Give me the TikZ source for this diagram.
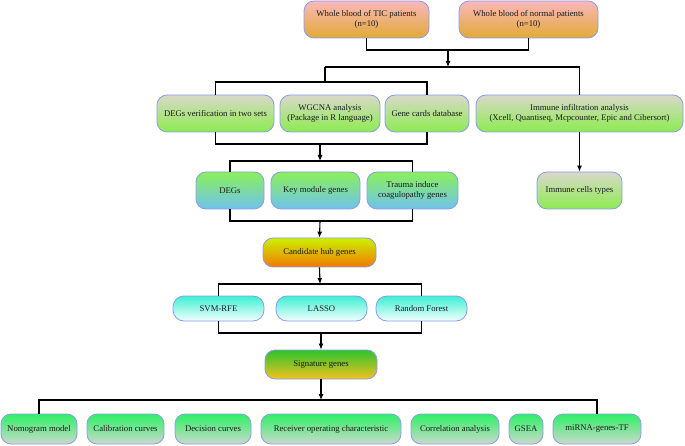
\documentclass[tikz,border=0pt]{standalone}
\usepackage{fontspec}
\setmainfont{Liberation Serif}
\usetikzlibrary{arrows.meta}
\definecolor{bordc}{HTML}{8A9BEF}
\definecolor{pinkT}{HTML}{F9B8BC}
\definecolor{orangeB}{HTML}{E2A935}
\definecolor{grayT}{HTML}{D9D9C9}
\definecolor{greenB}{HTML}{8CEB50}
\definecolor{greenT}{HTML}{8AF05A}
\definecolor{blueB}{HTML}{70C2EE}
\definecolor{yellowT}{HTML}{CCF000}
\definecolor{orangeD}{HTML}{F07A00}
\definecolor{cyanT}{HTML}{3DF0D2}
\definecolor{whiteB}{HTML}{F4FFFF}
\definecolor{sigT}{HTML}{2EC22E}
\definecolor{sigB}{HTML}{F2C21E}
\definecolor{lastT}{HTML}{2EF065}
\definecolor{lastB}{HTML}{CCD9CC}
\definecolor{txt}{HTML}{1A1A1A}
\tikzset{
  box/.style={draw=bordc, line width=0.8pt, rounded corners=10pt, inner sep=0pt,
    align=center, text=txt, font=\fontsize{8.7}{10.4}\selectfont},
  toprow/.style={box, top color=pinkT, bottom color=orangeB, minimum height=37pt},
  grayrow/.style={box, top color=grayT, bottom color=greenB, minimum height=37pt},
  bluerow/.style={box, top color=greenT, bottom color=blueB, minimum height=37pt},
  candbox/.style={box, top color=yellowT, bottom color=orangeD, minimum height=29pt},
  cyanrow/.style={box, top color=cyanT, bottom color=whiteB, minimum height=25pt, rounded corners=11pt},
  sigbox/.style={box, top color=sigT, bottom color=sigB, minimum height=29pt},
  lastrow/.style={box, top color=lastT, bottom color=lastB, minimum height=30pt},
  conn/.style={line width=1.1pt, black},
  arr/.style={conn, -{Latex[length=6pt,width=5pt]}}
}
\begin{document}
\begin{tikzpicture}[x=1pt,y=-1pt]
\useasboundingbox (0,0) rectangle (685,446);
% row 1
\node[toprow, minimum width=125pt] (tic) at (366.5,19.5) {Whole blood of TIC patients\\(n=10)};
\node[toprow, minimum width=139pt] (normal) at (528.5,19.5) {Whole blood of normal patients\\(n=10)};
% row 2
\node[grayrow, minimum width=117pt] (degsv) at (215.5,113.5) {DEGs verification in two sets};
\node[grayrow, minimum width=100pt] (wgcna) at (330,113.5) {WGCNA analysis\\(Package in R language)};
\node[grayrow, minimum width=84pt] (gcards) at (427,113.5) {Gene cards database};
\node[grayrow, minimum width=207pt] (immune) at (579.5,113.5) {Immune infiltration analysis\\(Xcell, Quantiseq, Mcpcounter, Epic and Cibersort)};
% row 3
\node[bluerow, minimum width=68pt] (degs) at (230,190.5) {DEGs};
\node[bluerow, minimum width=89pt] (keymod) at (315.5,190.5) {Key module genes};
\node[bluerow, minimum width=91pt] (trauma) at (412.5,190.5) {Trauma induce\\coagulopathy genes};
\node[grayrow, minimum width=85pt] (cells) at (579.5,190.5) {Immune cells types};
% candidate
\node[candbox, minimum width=113pt] (cand) at (319.5,252.5) {Candidate hub genes};
% row 4
\node[cyanrow, minimum width=91pt] (svm) at (218.5,308.5) {SVM-RFE};
\node[cyanrow, minimum width=91pt] (lasso) at (321.5,308.5) {LASSO};
\node[cyanrow, minimum width=91pt] (rf) at (421.5,308.5) {Random Forest};
% signature
\node[sigbox, minimum width=112pt] (sig) at (321,364.5) {Signature genes};
% row 5
\node[lastrow, minimum width=76pt] (nomo) at (39,429) {Nomogram model};
\node[lastrow, minimum width=77pt] (calib) at (125.5,429) {Calibration curves};
\node[lastrow, minimum width=76pt] (decis) at (213,429) {Decision curves};
\node[lastrow, minimum width=140pt] (roc) at (331,429) {Receiver operating characteristic};
\node[lastrow, minimum width=88pt] (corr) at (455,429) {Correlation analysis};
\node[lastrow, minimum width=34pt] (gsea) at (526,429) {GSEA};
\node[lastrow, minimum width=88pt] (mirna) at (597,429) {miRNA-genes-TF};
% junction coordinates
\coordinate (j1) at (448,50);
\coordinate (j2) at (448,67);
\coordinate (b1) at (325,67);
\coordinate (b2) at (325,82);
\coordinate (j3) at (320,144);
\coordinate (j4) at (320,161);
\coordinate (j5) at (320,221);
\coordinate (j6) at (320,284);
\coordinate (j7) at (321,333);
\coordinate (j8) at (321,400);
% connectors
\draw[conn] (tic.south) -- (tic.south |- j1) -- (normal.south |- j1) -- (normal.south);
\draw[arr] (j1) -- (j2);
\draw[conn] (b1) -- (immune.north |- b1) -- (immune.north);
\draw[conn] (b1) -- (b2);
\draw[conn] (degsv.north) -- (degsv.north |- b2) -- (gcards.north |- b2) -- (gcards.north);
\draw[conn] (degsv.south) -- (degsv.south |- j3) -- (gcards.south |- j3) -- (gcards.south);
\draw[arr] (j3) -- (j4);
\draw[conn] (degs.north) -- (degs.north |- j4) -- (trauma.north |- j4) -- (trauma.north);
\draw[arr] (immune.south) -- (cells.north);
\draw[conn] (degs.south) -- (degs.south |- j5) -- (trauma.south |- j5) -- (trauma.south);
\draw[arr] (j5) -- (cand.north);
\draw[arr] (cand.south) -- (j6);
\draw[conn] (svm.north) -- (svm.north |- j6) -- (rf.north |- j6) -- (rf.north);
\draw[conn] (svm.south) -- (svm.south |- j7) -- (rf.south |- j7) -- (rf.south);
\draw[arr] (j7) -- (sig.north);
\draw[arr] (sig.south) -- (j8);
\draw[conn] (nomo.north) -- (nomo.north |- j8) -- (mirna.north |- j8) -- (mirna.north);
\end{tikzpicture}
\end{document}
